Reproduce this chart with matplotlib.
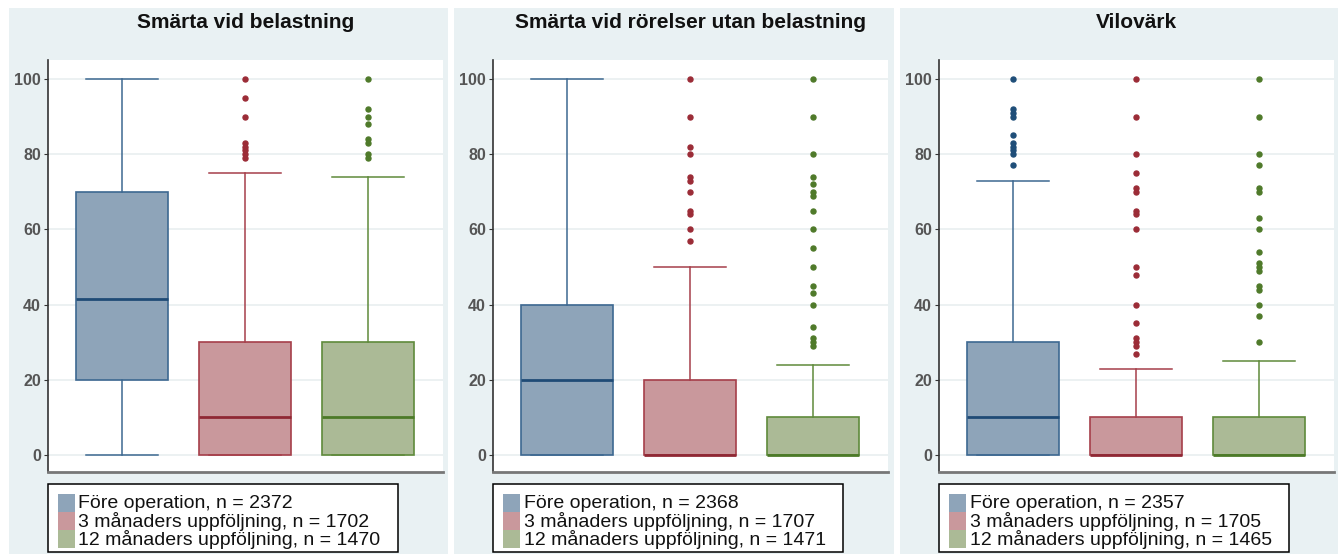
import matplotlib
matplotlib.use("Agg")
import matplotlib.pyplot as plt
from matplotlib.patches import Rectangle

plt.rcParams['font.family'] = ['Liberation Sans', 'DejaVu Sans']

# ---------------- data ----------------
panel_titles = ["Smärta vid belastning",
                "Smärta vid rörelser utan belastning",
                "Vilovärk"]
categories = ["Före operation", "3 månaders uppföljning", "12 månaders uppföljning"]
n_counts = [[2372, 1702, 1470],
            [2368, 1707, 1471],
            [2357, 1705, 1465]]
q1 = [[20, 0, 0], [0, 0, 0], [0, 0, 0]]
medians = [[41.5, 10, 10], [20, 0, 0], [10, 0, 0]]
q3 = [[70, 30, 30], [40, 20, 10], [30, 10, 10]]
whis_lo = [[0, 0, 0], [0, 0, 0], [0, 0, 0]]
whis_hi = [[100, 75, 74], [100, 50, 24], [73, 23, 25]]
outliers = [
    [[],
     [100, 95, 90, 83, 82, 81, 80, 79],
     [100, 92, 90, 88, 84, 83, 80, 79]],
    [[],
     [100, 90, 82, 80, 74, 73, 70, 65, 64, 60, 57],
     [100, 90, 80, 74, 72, 70, 69, 65, 60, 55, 50, 45, 43, 40, 34, 31, 30, 29]],
    [[100, 92, 91, 90, 85, 83, 82, 81, 80, 77],
     [100, 90, 80, 75, 71, 70, 65, 64, 60, 50, 48, 40, 35, 31, 30, 29, 27],
     [100, 90, 80, 77, 71, 70, 63, 60, 54, 51, 50, 49, 45, 44, 40, 37, 30]],
]
y_ticks = [0, 20, 40, 60, 80, 100]

# ---------------- style ----------------
fill_colors = ["#8ea4b9", "#c9989c", "#abba96"]
edge_colors = ["#3d6891", "#a63f4a", "#5f8a3b"]
median_colors = ["#1f4b76", "#8f2834", "#4c7a28"]
flier_colors = ["#1f4e79", "#9b2c37", "#4f7a2a"]
panel_bg = "#e9f1f3"

W, H = 1338, 554
fig = plt.figure(figsize=(W / 100, H / 100), dpi=100)

panel_x = [9, 454, 900]
panel_w = [439, 440, 438]
axes_left = [48, 493, 939]
axes_w = 395
axes_top, axes_bottom = 60, 472
axes_h = axes_bottom - axes_top

for i in range(3):
    fig.patches.append(Rectangle((panel_x[i] / W, 0), panel_w[i] / W, (H - 8) / H,
                                 transform=fig.transFigure, facecolor=panel_bg,
                                 edgecolor="none", zorder=-10))


def px_x(px):
    return px / axes_w


def px_y(py):
    return (axes_bottom - py) / axes_h


for p in range(3):
    ax = fig.add_axes([axes_left[p] / W, (H - axes_bottom) / H,
                       axes_w / W, axes_h / H])
    ax.set_zorder(1)
    ax.set_facecolor("white")
    for j in range(3):
        stats = [dict(med=medians[p][j], q1=q1[p][j], q3=q3[p][j],
                      whislo=whis_lo[p][j], whishi=whis_hi[p][j],
                      fliers=outliers[p][j])]
        ax.bxp(stats, positions=[j + 1], widths=0.75, capwidths=0.585,
               patch_artist=True, manage_ticks=False,
               boxprops=dict(facecolor=fill_colors[j], edgecolor=edge_colors[j], linewidth=1.2),
               whiskerprops=dict(color=edge_colors[j], linewidth=1.1),
               capprops=dict(color=edge_colors[j], linewidth=1.1),
               medianprops=dict(color=median_colors[j], linewidth=2.0),
               flierprops=dict(marker='o', markersize=3.6, markerfacecolor=flier_colors[j],
                               markeredgecolor=flier_colors[j], linestyle='none'),
               zorder=3)
    ax.set_xlim(0.4, 3.61)
    ax.set_ylim(-4.5, 105.05)
    ax.set_xticks([])
    ax.set_yticks(y_ticks)
    ax.set_yticklabels([str(t) for t in y_ticks], fontsize=11.5, fontweight='bold',
                       color="#555555")
    ax.tick_params(axis='y', length=3, width=0.8, color="#333333", pad=2)
    ax.yaxis.grid(True, color="#eaf0f1", linewidth=1.3, zorder=0)
    ax.set_axisbelow(True)
    ax.spines['top'].set_visible(False)
    ax.spines['right'].set_visible(False)
    ax.spines['left'].set_color("#333333")
    ax.spines['left'].set_linewidth(1.2)
    ax.spines['bottom'].set_color("#777777")
    ax.spines['bottom'].set_linewidth(2.0)

    ax.text(0.5, px_y(27.5), panel_titles[p],
            transform=ax.transAxes, ha='center', va='baseline',
            fontsize=15, fontweight='bold', color="#111111")

    # legend (drawn as a fixed box below the axes)
    ax.add_patch(Rectangle((0, px_y(552)), px_x(350), (552 - 484) / axes_h,
                           transform=ax.transAxes, facecolor="white",
                           edgecolor="black", linewidth=1.1, clip_on=False))
    for j in range(3):
        top = 494 + 18 * j
        ax.add_patch(Rectangle((px_x(10), px_y(top + 18)), px_x(16.5), 18 / axes_h,
                               transform=ax.transAxes, facecolor=fill_colors[j],
                               edgecolor="none", clip_on=False))
        ax.text(px_x(30.5), px_y(top + 9.5), f"{categories[j]}, n = {n_counts[p][j]}",
                transform=ax.transAxes, ha='left', va='center',
                fontsize=14, color="#111111", clip_on=False)

fig.savefig("out.png", dpi=100, facecolor="white")
